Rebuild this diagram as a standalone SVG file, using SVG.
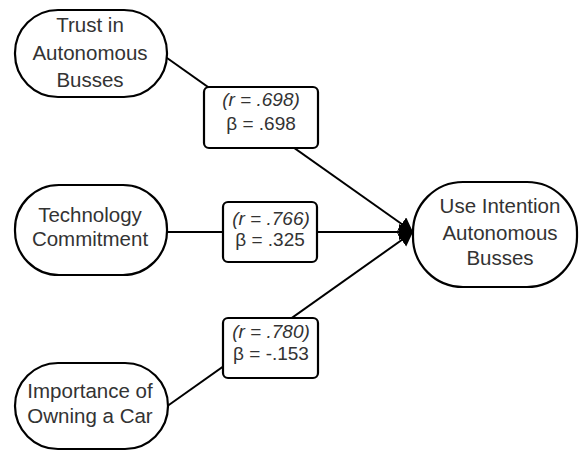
<svg xmlns="http://www.w3.org/2000/svg" width="579" height="451" viewBox="0 0 579 451">
<defs>
<style>
.node{fill:#fff;stroke:#000;stroke-width:2.2}
.lbl{fill:#fff;stroke:#000;stroke-width:2.2}
.t{font-family:"Liberation Sans",Arial,sans-serif;font-size:20.5px;fill:#333;text-anchor:middle}
.b{font-family:"Liberation Sans",Arial,sans-serif;font-size:19px;fill:#333;text-anchor:middle}
.i{font-style:italic}
.edge{stroke:#000;stroke-width:2;fill:none;marker-end:url(#ah)}
</style>
<marker id="ah" markerUnits="userSpaceOnUse" markerWidth="16" markerHeight="18" refX="14" refY="8" orient="auto">
<path d="M0,0 L14,8 L0,16 Z" fill="#000"/>
</marker>
</defs>
<rect width="579" height="451" fill="#fff"/>
<g id="connectors">
<line class="edge" x1="160" y1="53" x2="413" y2="232"/>
<line class="edge" x1="167" y1="232" x2="413" y2="232"/>
<line class="edge" x1="166" y1="407" x2="413" y2="232"/>
</g>
<g id="trust">
<rect class="node" x="15" y="10" width="152" height="87" rx="43" ry="43"/>
<text class="t" x="90" y="32">Trust in</text>
<text class="t" x="90" y="60">Autonomous</text>
<text class="t" x="90" y="87">Busses</text>
</g>
<g id="techcommit">
<rect class="node" x="15" y="185" width="152" height="90" rx="44" ry="44"/>
<text class="t" x="90" y="222">Technology</text>
<text class="t" x="90" y="246">Commitment</text>
</g>
<g id="owning">
<rect class="node" x="15" y="363" width="153" height="86" rx="43" ry="43"/>
<text class="t" x="90" y="398">Importance of</text>
<text class="t" x="90" y="423">Owning a Car</text>
</g>
<g id="useintention">
<rect class="node" x="413" y="182" width="164" height="105" rx="50" ry="50"/>
<text class="t" x="500" y="213">Use Intention</text>
<text class="t" x="500" y="240">Autonomous</text>
<text class="t" x="500" y="265">Busses</text>
</g>
<g id="label1">
<rect class="lbl" x="204" y="87" width="114" height="61" rx="5" ry="5"/>
<text class="b i" x="261" y="106">(r = .698)</text>
<text class="b" x="261" y="130">β = .698</text>
</g>
<g id="label2">
<rect class="lbl" x="223" y="202" width="94" height="60" rx="5" ry="5"/>
<text class="b i" x="271" y="225">(r = .766)</text>
<text class="b" x="270" y="246">β = .325</text>
</g>
<g id="label3">
<rect class="lbl" x="223" y="318" width="95" height="60" rx="5" ry="5"/>
<text class="b i" x="271" y="338">(r = .780)</text>
<text class="b" x="271" y="360">β = -.153</text>
</g>
</svg>
